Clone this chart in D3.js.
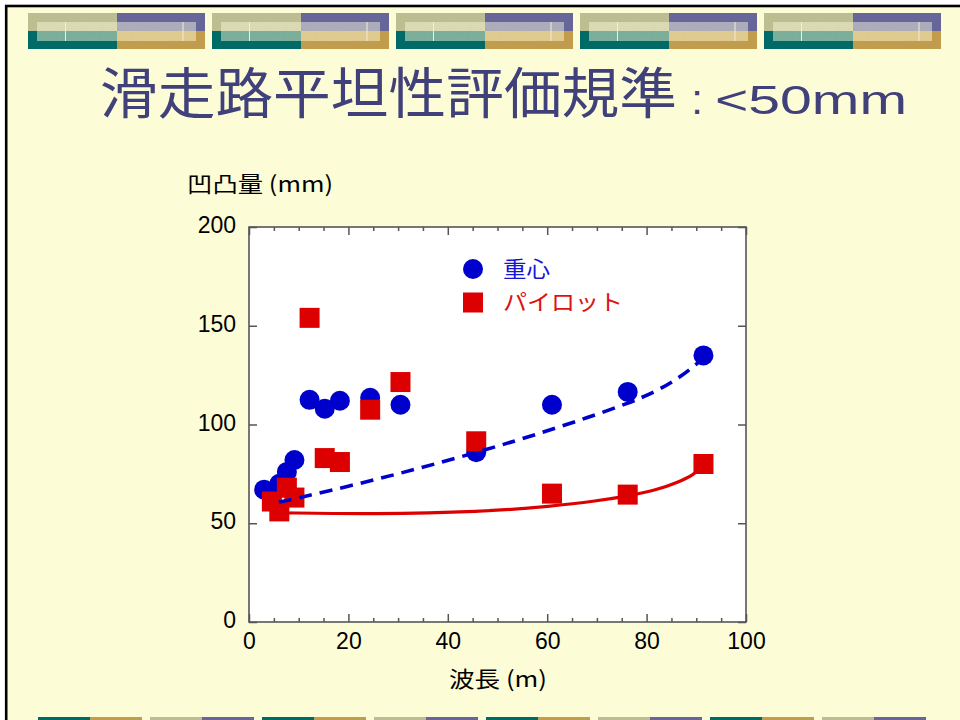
<!DOCTYPE html>
<html><head><meta charset="utf-8">
<script src="https://cdn.jsdelivr.net/npm/d3@7"></script>
<style>
html,body{margin:0;padding:0;background:#fff;}
svg{display:block;}
</style></head>
<body>
<svg id="chart" width="960" height="720"></svg>
<script>
// ---- data ----
const titleMain = "滑走路平坦性評価規準";
const titleUnit = "<50mm";
const yTitle = "凹凸量 (mm)";
const xTitle = "波長 (m)";
const seriesNames = ["重心", "パイロット"];
const xTicks = [0, 20, 40, 60, 80, 100];
const yTicks = [0, 50, 100, 150, 200];
// 重心 (center of gravity) points: wavelength m, amplitude mm
const cgX = [3.05, 6.1, 7.62, 9.14, 12.19, 15.24, 18.29, 24.38, 30.48, 45.72, 60.96, 76.2, 91.44];
const cgY = [67, 70, 76, 82, 112.5, 108, 112, 113.5, 110, 86, 110, 116.5, 135];
// パイロット points
const plX = [4.6, 6.1, 7.62, 9.14, 12.19, 15.24, 18.29, 24.38, 30.48, 45.72, 60.96, 76.2, 91.44];
const plY = [61, 56, 68, 63, 154, 83, 81, 107.5, 121.5, 91.5, 65, 64.5, 80];
// fitted curves
const cgFitX = [6, 20, 33.7, 47.2, 59.4, 68, 76.2, 82, 87, 91.4];
const cgFitY = [60.6, 68.6, 77.4, 86.8, 96.2, 103.4, 110.6, 116.8, 124.2, 133.5];
const plFitX = [6.5, 25, 46.7, 61, 70, 76.2, 82, 86.2, 89.6, 91.4];
const plFitY = [55.3, 54.6, 55.7, 58.6, 61.3, 63.8, 66.8, 70.6, 74.6, 79.5];

const svg = d3.select("#chart");
const CJK = "'Noto Sans CJK JP','Noto Sans CJK SC',sans-serif";
const LAT = "'Liberation Sans',Arial,sans-serif";

const defs = svg.append("defs");
const f = defs.append("filter").attr("id","grain").attr("x",0).attr("y",0).attr("width","100%").attr("height","100%");
f.append("feTurbulence").attr("type","fractalNoise").attr("baseFrequency",0.9).attr("numOctaves",2).attr("seed",3);
f.append("feColorMatrix").attr("type","saturate").attr("values",0);

// slide background & border
svg.append("rect").attr("x",0).attr("y",0).attr("width",960).attr("height",720).attr("fill","#fff");
svg.append("rect").attr("x",6.2).attr("y",6).attr("width",1000).attr("height",1000)
  .attr("fill","#FCFCD6").attr("stroke","#000").attr("stroke-width",2.6);

// top decorative blocks
const topStarts = [28, 212, 396, 580, 764];
const deco = svg.append("g");
topStarts.forEach(x0 => {
  const g = deco.append("g").attr("transform", `translate(${x0},13)`);
  g.append("rect").attr("x",0).attr("y",0).attr("width",89).attr("height",18).attr("fill","#BDBD92");
  g.append("rect").attr("x",0).attr("y",18).attr("width",89).attr("height",18).attr("fill","#006B66");
  g.append("rect").attr("x",89).attr("y",0).attr("width",88).attr("height",18).attr("fill","#66669B");
  g.append("rect").attr("x",89).attr("y",18).attr("width",88).attr("height",18).attr("fill","#C09C4C");
  g.append("rect").attr("x",9).attr("y",9).attr("width",80).attr("height",9).attr("fill","#DCDCB4");
  g.append("rect").attr("x",9).attr("y",18).attr("width",80).attr("height",10).attr("fill","#76AE98");
  g.append("rect").attr("x",89).attr("y",9).attr("width",79).attr("height",9).attr("fill","#ABABBA");
  g.append("rect").attr("x",89).attr("y",18).attr("width",79).attr("height",10).attr("fill","#E2CC8C");
  g.append("rect").attr("x",9).attr("y",9).attr("width",159).attr("height",19)
    .attr("filter","url(#grain)").attr("opacity",0.14);
  g.append("line").attr("x1",37.5).attr("x2",37.5).attr("y1",9).attr("y2",28).attr("stroke","#EEEED0").attr("stroke-width",1);
  g.append("line").attr("x1",155).attr("x2",155).attr("y1",9).attr("y2",28).attr("stroke","#F0ECD8").attr("stroke-width",1);
});
// bottom decorative blocks
const botStarts = [38, 150, 262, 374, 486, 598, 710, 822];
botStarts.forEach((x0,i) => {
  const c = i % 2 === 0 ? ["#006B66","#C09C4C"] : ["#BDBD92","#66669B"];
  deco.append("rect").attr("x",x0).attr("y",717).attr("width",52).attr("height",5).attr("fill",c[0]);
  deco.append("rect").attr("x",x0+52).attr("y",717).attr("width",52).attr("height",5).attr("fill",c[1]);
});

// title
svg.append("text").attr("x",100).attr("y",113).attr("font-family",CJK).attr("font-size",55)
  .attr("fill","#40407A").attr("textLength",577).attr("lengthAdjust","spacingAndGlyphs").text(titleMain);
svg.append("text").attr("x",697).attr("y",114).attr("text-anchor","middle").attr("font-family",LAT)
  .attr("font-size",42).attr("fill","#40407A").text(":");
svg.append("text").attr("x",715).attr("y",114).attr("font-family",LAT).attr("font-size",41)
  .attr("fill","#40407A").attr("textLength",192).attr("lengthAdjust","spacingAndGlyphs").text(titleUnit);

// scales
const x = d3.scaleLinear().domain([0,100]).range([249,746]);
const y = d3.scaleLinear().domain([0,200]).range([622,227]);

// plot area
svg.append("rect").attr("x",x(0)).attr("y",y(200)).attr("width",x(100)-x(0)).attr("height",y(0)-y(200))
  .attr("fill","#fff");

const tickColor = "#555";
function styleAxis(g, fs){
  g.select(".domain").remove();
  g.selectAll(".tick line").attr("stroke",tickColor).attr("stroke-width",1.5);
  g.selectAll(".tick text").attr("font-family",LAT).attr("font-size",fs).attr("fill","#000");
}
const minorX = d3.range(5,100,5).filter(v => v % 20 !== 0);
// bottom axis
const gb = svg.append("g").attr("transform",`translate(0,${y(0)})`)
  .call(d3.axisBottom(x).tickValues(xTicks).tickFormat(d3.format("d")).tickSize(-8).tickPadding(11));
styleAxis(gb, 23);
const gbm = svg.append("g").attr("transform",`translate(0,${y(0)})`)
  .call(d3.axisBottom(x).tickValues(minorX).tickFormat("").tickSize(-4));
styleAxis(gbm, 1);
// top axis
const gt = svg.append("g").attr("transform",`translate(0,${y(200)})`)
  .call(d3.axisTop(x).tickValues(xTicks).tickFormat("").tickSize(-8));
styleAxis(gt, 1);
const gtm = svg.append("g").attr("transform",`translate(0,${y(200)})`)
  .call(d3.axisTop(x).tickValues(minorX).tickFormat("").tickSize(-4));
styleAxis(gtm, 1);
// left axis
const gl = svg.append("g").attr("transform",`translate(${x(0)},0)`)
  .call(d3.axisLeft(y).tickValues(yTicks).tickFormat(d3.format("d")).tickSize(-8).tickPadding(13));
styleAxis(gl, 23);
gl.selectAll(".tick text").attr("dy","0.24em");
// right axis
const gr = svg.append("g").attr("transform",`translate(${x(100)},0)`)
  .call(d3.axisRight(y).tickValues(yTicks).tickFormat("").tickSize(-8));
styleAxis(gr, 1);

// frame
svg.append("rect").attr("x",x(0)).attr("y",y(200)).attr("width",x(100)-x(0)).attr("height",y(0)-y(200))
  .attr("fill","none").attr("stroke",tickColor).attr("stroke-width",1.6);

// axis titles
svg.append("text").attr("x",187).attr("y",192).attr("font-family",CJK).attr("font-size",22)
  .attr("fill","#000").attr("textLength",146).attr("lengthAdjust","spacingAndGlyphs").text(yTitle);
svg.append("text").attr("x",449).attr("y",687).attr("font-family",CJK).attr("font-size",22)
  .attr("fill","#000").attr("textLength",98).attr("lengthAdjust","spacingAndGlyphs").text(xTitle);

const blue = "#0000CC", red = "#DD0000";
const cgData = cgX.map((v,i)=>[v,cgY[i]]);
const plData = plX.map((v,i)=>[v,plY[i]]);
const cgFit = cgFitX.map((v,i)=>[v,cgFitY[i]]);
const plFit = plFitX.map((v,i)=>[v,plFitY[i]]);
const line = d3.line().x(d=>x(d[0])).y(d=>y(d[1])).curve(d3.curveBasis);

// points
svg.append("g").selectAll("circle").data(cgData).join("circle")
  .attr("cx",d=>x(d[0])).attr("cy",d=>y(d[1])).attr("r",10).attr("fill",blue);
svg.append("g").selectAll("rect").data(plData).join("rect")
  .attr("x",d=>x(d[0])-10).attr("y",d=>y(d[1])-10).attr("width",20).attr("height",20).attr("fill",red);

// fitted curves
svg.append("path").datum(cgFit).attr("d",line).attr("fill","none").attr("stroke",blue)
  .attr("stroke-width",3.6).attr("stroke-dasharray","13,8");
svg.append("path").datum(plFit).attr("d",line).attr("fill","none").attr("stroke",red)
  .attr("stroke-width",3.2);

// legend
const lg = svg.append("g");
lg.append("circle").attr("cx",473).attr("cy",269).attr("r",10).attr("fill",blue);
lg.append("rect").attr("x",463).attr("y",292.5).attr("width",20).attr("height",20).attr("fill",red);
lg.append("text").attr("x",503).attr("y",277).attr("font-family",CJK).attr("font-size",22)
  .attr("fill","#1515D5").attr("textLength",47).attr("lengthAdjust","spacingAndGlyphs").text(seriesNames[0]);
lg.append("text").attr("x",503).attr("y",310).attr("font-family",CJK).attr("font-size",22)
  .attr("fill","#DD1111").attr("textLength",120).attr("lengthAdjust","spacingAndGlyphs").text(seriesNames[1]);
</script>
</body></html>
